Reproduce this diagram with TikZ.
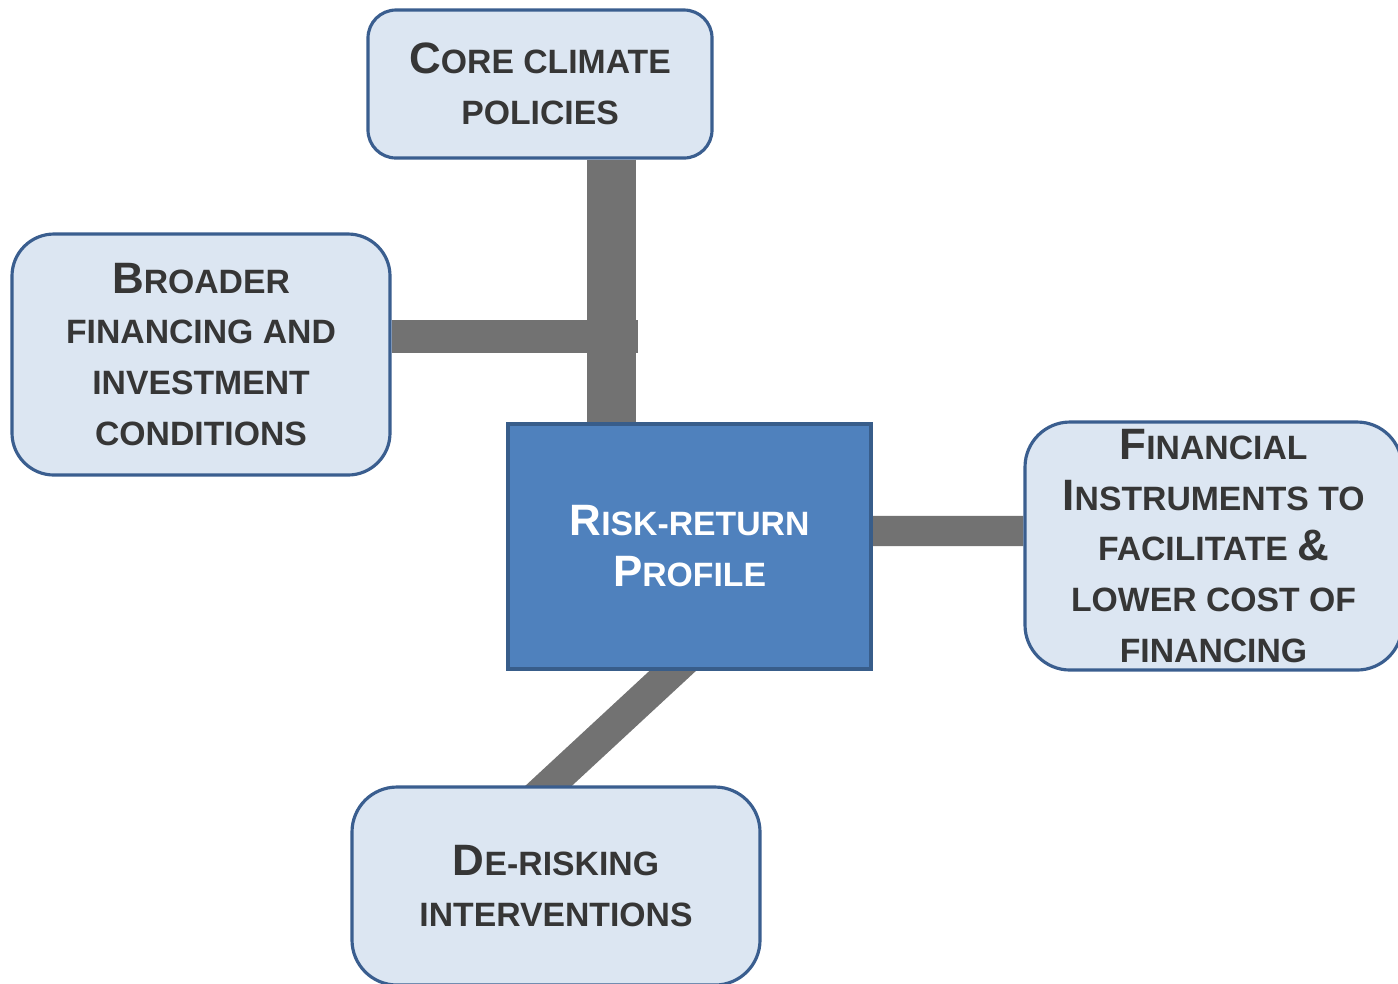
\documentclass[tikz,border=0pt]{standalone}
\usepackage{fontspec}
\setmainfont{Liberation Sans}
\usetikzlibrary{backgrounds}

\definecolor{boxfill}{HTML}{DCE6F2}
\definecolor{boxline}{HTML}{3A5E8F}
\definecolor{hubfill}{HTML}{4F81BD}
\definecolor{hubline}{HTML}{385D8A}
\definecolor{barcol}{HTML}{727272}
\definecolor{txt}{HTML}{363636}

% first letter of a small-caps word
\newcommand{\capfirst}[1]{{\fontsize{12.5}{14.5}\selectfont #1}}

\begin{document}
\begin{tikzpicture}[
  factor/.style={draw=boxline, fill=boxfill, line width=0.9pt, align=center, inner sep=0pt,
    text=txt, font=\fontsize{9.6}{14.5}\selectfont\bfseries},
  link/.style={draw=barcol, line cap=butt}]
\useasboundingbox (0,0) rectangle (13.98,-9.83);

\node[factor, rounded corners=0.28cm, minimum width=3.44cm, minimum height=1.48cm] (core) at (5.40,-0.84) {\capfirst{C}ORE CLIMATE\\POLICIES};
\node[factor, rounded corners=0.42cm, minimum width=3.78cm, minimum height=2.41cm] (broad) at (2.01,-3.545) {\capfirst{B}ROADER\\FINANCING AND\\INVESTMENT\\CONDITIONS};
\node[factor, draw=hubline, fill=hubfill, text=white, minimum width=3.63cm, minimum height=2.45cm] (risk) at (6.895,-5.465) {\capfirst{R}ISK-RETURN\\\capfirst{P}ROFILE};
\node[factor, rounded corners=0.45cm, minimum width=3.77cm, minimum height=2.48cm] (instr) at (12.135,-5.46) {\capfirst{F}INANCIAL\\\capfirst{I}NSTRUMENTS TO\\FACILITATE \capfirst{\&}\\LOWER COST OF\\FINANCING};
\node[factor, rounded corners=0.45cm, minimum width=4.08cm, minimum height=1.98cm] (derisk) at (5.56,-8.86) {\capfirst{D}E-RISKING\\INTERVENTIONS};

\coordinate (joint) at (6.115,-3.365);

\begin{scope}[on background layer]
\draw[link, line width=14pt] (core.south -| joint) -- (risk.north -| joint);
\draw[link, line width=9.4pt] (broad.east |- joint) -- ([xshift=0.265cm]joint);
\draw[link, line width=8.6pt] ([yshift=0.155cm]risk.east) -- ([yshift=0.15cm]instr.west);
\draw[link, line width=9pt, shorten <=-0.3cm, shorten >=-0.3cm] ([xshift=-0.165cm]risk.south) -- ([xshift=-0.07cm]derisk.north);
\end{scope}
\end{tikzpicture}
\end{document}
